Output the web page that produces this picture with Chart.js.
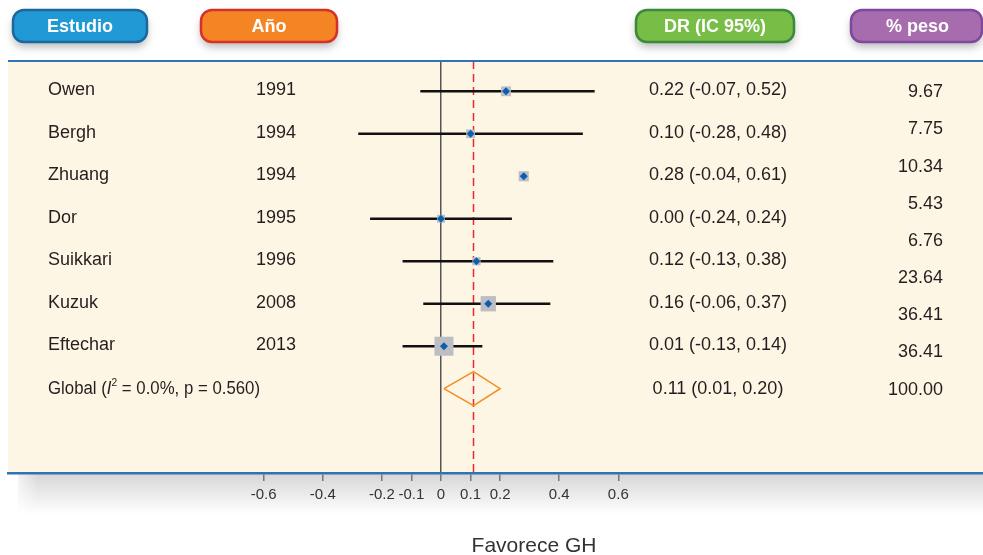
<!DOCTYPE html>
<html lang="es">
<head>
<meta charset="utf-8">
<title>Forest plot - DR (IC 95%)</title>
<script src="https://cdn.jsdelivr.net/npm/chart.js@4.4.1/dist/chart.umd.min.js"></script>
<style>
  html, body { margin: 0; padding: 0; background: #fff; }
  #wrap { width: 983px; height: 555px; position: relative; }
</style>
</head>
<body>
<div id="wrap"><canvas id="chartForest"></canvas></div>
<script>
// Datos
const estudios = ['Owen', 'Bergh', 'Zhuang', 'Dor', 'Suikkari', 'Kuzuk', 'Eftechar'];
const anios = ['1991', '1994', '1994', '1995', '1996', '2008', '2013'];
const dr = [0.22, 0.10, 0.28, 0.00, 0.12, 0.16, 0.01];
const icInf = [-0.07, -0.28, -0.04, -0.24, -0.13, -0.06, -0.13];
const icSup = [0.52, 0.48, 0.61, 0.24, 0.38, 0.37, 0.14];
const mostrarIC = [true, true, false, true, true, true, true]; // Zhuang sale sin linea en el original
const pesos = [9.67, 7.75, 10.34, 5.43, 6.76, 23.64, 36.41];
// columna "% peso" tal como aparece (incluye el 36.41 repetido)
const pesoEtiquetas = ['9.67', '7.75', '10.34', '5.43', '6.76', '23.64', '36.41', '36.41', '100.00'];
const globalDr = 0.11;
const globalInf = 0.01;
const globalSup = 0.20;
const ticksX = [-0.6, -0.4, -0.2, -0.1, 0, 0.1, 0.2, 0.4, 0.6];
const ticksEtiquetas = ['-0.6', '-0.4', '-0.2', '-0.1', '0', '0.1', '0.2', '0.4', '0.6'];

const FUENTE = '"Liberation Sans", Arial, Helvetica, sans-serif';
const filaGlobal = estudios.length;
const Y_MIN = -0.713, Y_MAX = 8.984;

// Encabezados (pastillas de colores)
const encabezados = [
  { texto: 'Estudio', x: 13, w: 134, fondo: '#2199d4', borde: '#1b689e' },
  { texto: 'Año', x: 201, w: 136, fondo: '#f58524', borde: '#d6302a' },
  { texto: 'DR (IC 95%)', x: 636, w: 158, fondo: '#78bd45', borde: '#3a8a3b' },
  { texto: '% peso', x: 851, w: 131, fondo: '#a66cad', borde: '#7f479e' }
];

const fmt = v => v.toFixed(2);
const textoDR = (d, a, b) => `${fmt(d)} (${fmt(a)}, ${fmt(b)})`;

// Datasets
const lineasIC = estudios
  .map((e, i) => ({ e, i }))
  .filter(o => mostrarIC[o.i])
  .map(o => ({
    type: 'line',
    label: 'IC ' + o.e,
    data: [{ x: icInf[o.i], y: o.i }, { x: icSup[o.i], y: o.i }],
    borderColor: '#111',
    borderWidth: 2.5,
    pointRadius: 0,
    order: 5
  }));

const datasets = [
  {
    type: 'line',
    label: 'global ref',
    data: [{ x: globalDr, y: Y_MIN }, { x: globalDr, y: Y_MAX }],
    borderColor: '#ea2a2f',
    borderWidth: 1.5,
    borderDash: [8, 5],
    pointRadius: 0,
    order: 10
  },
  ...lineasIC,
  {
    type: 'scatter',
    label: 'peso',
    data: dr.map((v, i) => ({ x: v, y: i })),
    pointStyle: 'rect',
    pointRadius: pesos.map(w => Math.max(8, 3.15 * Math.sqrt(w)) / Math.SQRT2),
    pointBackgroundColor: '#bcbec3',
    pointBorderWidth: 0,
    order: 2
  },
  {
    type: 'scatter',
    label: 'DR',
    data: dr.map((v, i) => ({ x: v, y: i })),
    pointStyle: 'rectRot',
    pointRadius: 4,
    pointBackgroundColor: '#0c5fb0',
    pointBorderWidth: 0,
    order: 1
  },
  {
    type: 'line',
    label: 'Global',
    data: [
      { x: globalInf, y: filaGlobal },
      { x: globalDr, y: filaGlobal - 0.4 },
      { x: globalSup, y: filaGlobal },
      { x: globalDr, y: filaGlobal + 0.4 },
      { x: globalInf, y: filaGlobal }
    ],
    borderColor: '#f68b1f',
    borderWidth: 1.5,
    fill: false,
    pointRadius: 0,
    tension: 0,
    order: 1
  }
];

// Fondo del panel, sombra y linea superior
const panel = {
  id: 'panel',
  beforeDraw(chart) {
    const { ctx, chartArea: a } = chart;
    ctx.save();
    const g = ctx.createLinearGradient(0, a.bottom, 0, a.bottom + 42);
    g.addColorStop(0, 'rgba(0,0,0,0.16)');
    g.addColorStop(1, 'rgba(0,0,0,0)');
    ctx.fillStyle = g;
    ctx.fillRect(a.left + 10, a.bottom, a.right - a.left, 42);
    const gl = ctx.createLinearGradient(a.left, 0, a.left + 30, 0);
    gl.addColorStop(0, 'rgba(255,255,255,1)');
    gl.addColorStop(1, 'rgba(255,255,255,0)');
    ctx.fillStyle = gl;
    ctx.fillRect(a.left, a.bottom, 30, 42);
    ctx.fillStyle = '#fdf6e4';
    ctx.fillRect(a.left, a.top, a.right - a.left, a.bottom - a.top);
    ctx.restore();
  },
  afterDraw(chart) {
    const { ctx, chartArea: a } = chart;
    ctx.save();
    ctx.strokeStyle = '#2e73b3';
    ctx.lineWidth = 2;
    ctx.beginPath();
    ctx.moveTo(a.left, a.top);
    ctx.lineTo(a.right, a.top);
    ctx.stroke();
    ctx.restore();
  }
};

// Pastillas de encabezado
const cabecera = {
  id: 'cabecera',
  afterDraw(chart) {
    const { ctx } = chart;
    encabezados.forEach(h => {
      ctx.save();
      ctx.shadowColor = 'rgba(0,0,0,0.28)';
      ctx.shadowBlur = 9;
      ctx.shadowOffsetY = 5;
      ctx.beginPath();
      ctx.roundRect(h.x, 10, h.w, 32, 11);
      ctx.fillStyle = h.fondo;
      ctx.fill();
      ctx.shadowColor = 'transparent';
      ctx.lineWidth = 2.5;
      ctx.strokeStyle = h.borde;
      ctx.stroke();
      ctx.fillStyle = '#fff';
      ctx.font = 'bold 18px ' + FUENTE;
      ctx.textAlign = 'center';
      ctx.textBaseline = 'middle';
      ctx.fillText(h.texto, h.x + h.w / 2 + (h.texto === '% peso' ? 1 : 0), 27);
      ctx.restore();
    });
  }
};

// Columnas de texto
const textos = {
  id: 'textos',
  afterDraw(chart) {
    const { ctx, scales: { y } } = chart;
    ctx.save();
    ctx.fillStyle = '#231f20';
    ctx.font = '18px ' + FUENTE;
    ctx.textBaseline = 'middle';
    estudios.forEach((e, i) => {
      const py = y.getPixelForValue(i) - 1;
      ctx.textAlign = 'left';
      ctx.fillText(e, 48, py);
      ctx.fillText(anios[i], 256, py);
      ctx.textAlign = 'center';
      ctx.fillText(textoDR(dr[i], icInf[i], icSup[i]), 718, py);
    });
    const pg = y.getPixelForValue(filaGlobal);
    ctx.textAlign = 'center';
    ctx.fillText(textoDR(globalDr, globalInf, globalSup), 718, pg);

    // columna de pesos, repartida entre la primera y la ultima fila
    ctx.textAlign = 'right';
    pesoEtiquetas.forEach((p, i) => {
      const v = i * filaGlobal / (pesoEtiquetas.length - 1);
      ctx.fillText(p, 943, y.getPixelForValue(v) + 1);
    });

    // "Global (I² = 0.0%, p = 0.560)" en letra estrecha
    const partes = [
      { t: 'Global (', f: '18px ' + FUENTE, dy: 0 },
      { t: 'I', f: 'italic 18px ' + FUENTE, dy: 0 },
      { t: '2', f: '11px ' + FUENTE, dy: -6 },
      { t: ' = 0.0%, p = 0.560)', f: '18px ' + FUENTE, dy: 0 }
    ];
    let total = 0;
    partes.forEach(p => { ctx.font = p.f; p.w = ctx.measureText(p.t).width; total += p.w; });
    const sx = 212 / total;
    ctx.translate(48, pg);
    ctx.scale(sx, 1);
    ctx.textAlign = 'left';
    let cx = 0;
    partes.forEach(p => { ctx.font = p.f; ctx.fillText(p.t, cx, p.dy); cx += p.w; });
    ctx.restore();

    ctx.save();
    ctx.fillStyle = '#333';
    ctx.font = '21px ' + FUENTE;
    ctx.textAlign = 'center';
    ctx.textBaseline = 'middle';
    ctx.fillText('Favorece GH', 534, 546);
    ctx.restore();
  }
};

new Chart(document.getElementById('chartForest'), {
  type: 'scatter',
  data: { datasets },
  options: {
    responsive: true,
    maintainAspectRatio: false,
    animation: false,
    layout: { autoPadding: false, padding: { left: 8, right: 0, top: 61, bottom: 0 } },
    plugins: { legend: { display: false }, tooltip: { enabled: false } },
    scales: {
      x: {
        type: 'linear',
        min: -1.4653,
        max: 1.8342,
        afterBuildTicks: s => { s.ticks = ticksX.map(v => ({ value: v })); },
        afterFit: s => { s.height = 82; s.paddingLeft = 0; s.paddingRight = 0; },
        ticks: {
          autoSkip: false,
          maxRotation: 0,
          padding: 5,
          color: '#333',
          font: { family: FUENTE, size: 15 },
          callback: (v) => ticksEtiquetas[ticksX.indexOf(v)]
        },
        grid: {
          color: c => (c.tick && c.tick.value === 0 ? '#555' : 'rgba(0,0,0,0)'),
          lineWidth: 1.5,
          tickColor: '#777',
          tickLength: 8,
          drawTicks: true
        },
        border: { color: '#2e73b3', width: 2.5 }
      },
      y: {
        type: 'linear',
        display: false,
        reverse: true,
        min: Y_MIN,
        max: Y_MAX
      }
    }
  },
  plugins: [panel, cabecera, textos]
});
</script>
</body>
</html>
